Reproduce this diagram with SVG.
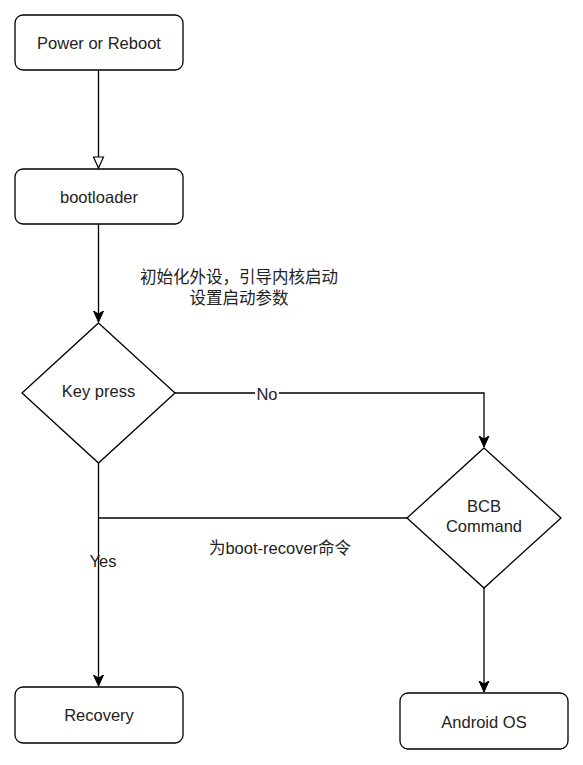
<svg xmlns="http://www.w3.org/2000/svg" width="583" height="765" viewBox="0 0 583 765">
<style>
.box{fill:#fff;stroke:#000;stroke-width:1.3}
.t{font-family:"Liberation Sans",Arial,sans-serif;font-size:16.5px;fill:#222;text-anchor:middle}
.c{font-family:"Liberation Sans","Noto Sans CJK SC",sans-serif;font-size:16.5px;fill:#222;text-anchor:middle}
.ln{fill:none;stroke:#000;stroke-width:1.3}
</style>
<defs>
<marker id="hollow" markerWidth="14" markerHeight="14" refX="12" refY="6" orient="auto" markerUnits="userSpaceOnUse" viewBox="0 0 14 12">
<path d="M1,1 L12,6 L1,11 Z" fill="#fff" stroke="#000" stroke-width="1.2"/>
</marker>
<marker id="solid" markerWidth="12" markerHeight="12" refX="11" refY="5" orient="auto" markerUnits="userSpaceOnUse" viewBox="0 0 12 10">
<path d="M0,0 L11,5 L0,10 L3,5 Z" fill="#000" stroke="#000" stroke-width="1"/>
</marker>
</defs>
<rect width="583" height="765" fill="#fff"/>
<g id="connectors">
<line class="ln" x1="98.5" y1="70" x2="98.5" y2="168" marker-end="url(#hollow)"/>
<line class="ln" x1="98.5" y1="224" x2="98.5" y2="322" marker-end="url(#solid)"/>
<polyline class="ln" points="175,393 484,393 484,447" marker-end="url(#solid)"/>
<polyline class="ln" points="407,518 98.5,518"/>
<line class="ln" x1="98.5" y1="463" x2="98.5" y2="686" marker-end="url(#solid)"/>
<line class="ln" x1="484" y1="588" x2="484" y2="692" marker-end="url(#solid)"/>
<rect x="255" y="386" width="24" height="16" fill="#fff"/>
<text class="t" x="267" y="400">No</text>
<text class="t" x="103" y="567">Yes</text>
<text class="c" x="280" y="554">为boot-recover命令</text>
<text class="c" x="239" y="283">初始化外设，引导内核启动</text>
<text class="c" x="239" y="304">设置启动参数</text>
</g>
<g id="power">
<rect class="box" x="15" y="15" width="168" height="55" rx="8"/>
<text class="t" x="99" y="49">Power or Reboot</text>
</g>
<g id="bootloader">
<rect class="box" x="15" y="169" width="168" height="55" rx="8"/>
<text class="t" x="99" y="203">bootloader</text>
</g>
<g id="keypress">
<polygon class="box" points="98.5,323 175,393 98.5,463 22,393"/>
<text class="t" x="98.5" y="397">Key press</text>
</g>
<g id="bcb">
<polygon class="box" points="484,448 561,518 484,588 407,518"/>
<text class="t" x="484" y="512">BCB</text>
<text class="t" x="484" y="532">Command</text>
</g>
<g id="recovery">
<rect class="box" x="15" y="687" width="168" height="56" rx="8"/>
<text class="t" x="99" y="721">Recovery</text>
</g>
<g id="android">
<rect class="box" x="400" y="693" width="168" height="56" rx="8"/>
<text class="t" x="484" y="728">Android OS</text>
</g>
</svg>
